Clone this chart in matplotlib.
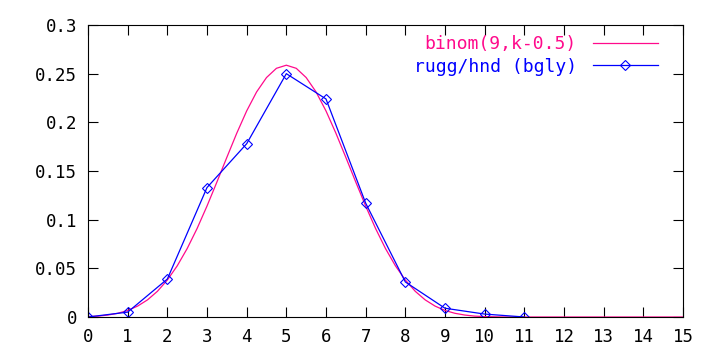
import matplotlib
matplotlib.use("Agg")
import matplotlib.pyplot as plt
from matplotlib.ticker import FuncFormatter

# binom(9,k-0.5) curve, values read at quarter-unit steps
binom_x = [0, 0.25, 0.5, 0.75, 1, 1.25, 1.5, 1.75, 2, 2.25, 2.5, 2.75, 3, 3.25,
           3.5, 3.75, 4, 4.25, 4.5, 4.75, 5, 5.25, 5.5, 5.75, 6, 6.25, 6.5,
           6.75, 7, 7.25, 7.5, 7.75, 8, 8.25, 8.5, 8.75, 9, 9.25, 9.5, 9.75,
           10, 10.5, 11, 12, 13, 14, 15]
binom_y = [0.0004, 0.0009, 0.002, 0.0038, 0.0067, 0.0112, 0.0176, 0.0264, 0.038,
           0.0526, 0.0703, 0.0909, 0.114, 0.1387, 0.164, 0.1888, 0.2117, 0.2312,
           0.246, 0.2555, 0.2587, 0.2555, 0.246, 0.2312, 0.2117, 0.1888, 0.164,
           0.1387, 0.114, 0.0909, 0.0703, 0.0526, 0.038, 0.0264, 0.0176, 0.0112,
           0.0067, 0.0038, 0.002, 0.0009, 0.0004, 0.0, 0.0, 0.0, 0.0, 0.0, 0.0]

# rugg/hnd (bgly) data
rugg_x = [0, 1, 2, 3, 4, 5, 6, 7, 8, 9, 10, 11]
rugg_y = [0.0, 0.005, 0.039, 0.133, 0.178, 0.250, 0.224, 0.117, 0.036, 0.009, 0.003, 0.0]

x_ticks = list(range(0, 16))
y_ticks = [0, 0.05, 0.1, 0.15, 0.2, 0.25, 0.3]

labels = ["binom(9,k-0.5)", "rugg/hnd (bgly)"]
colors = ["#ff0a8c", "#0000ff"]

plt.rcParams['font.family'] = ['DejaVu Sans Mono']

fig = plt.figure(figsize=(7.2, 3.6), dpi=100)
ax = fig.add_axes([88/720, 43/360, 595/720, 292/360])

ax.plot(binom_x, binom_y, color=colors[0], lw=0.9, label=labels[0])
ax.plot(rugg_x, rugg_y, color=colors[1], lw=0.9, marker='D', markersize=5,
        markerfacecolor='none', markeredgecolor=colors[1], markeredgewidth=0.8,
        label=labels[1])

ax.set_xlim(0, 15)
ax.set_ylim(0, 0.3)
ax.set_xticks(x_ticks)
ax.set_yticks(y_ticks)
ax.yaxis.set_major_formatter(FuncFormatter(lambda v, p: "%g" % v))
ax.tick_params(direction='in', length=7, width=0.8, top=True, right=True,
               labelsize=12.5, colors='black', pad=8)
for s in ax.spines.values():
    s.set_linewidth(0.8)

leg = ax.legend(loc='upper right', bbox_to_anchor=(0.97, 0.99), frameon=False,
                markerfirst=False, handlelength=3.6, handletextpad=0.9,
                fontsize=13, labelspacing=0.25, borderaxespad=0)
for t, c in zip(leg.get_texts(), colors):
    t.set_color(c)

fig.savefig("out.png", dpi=100)
